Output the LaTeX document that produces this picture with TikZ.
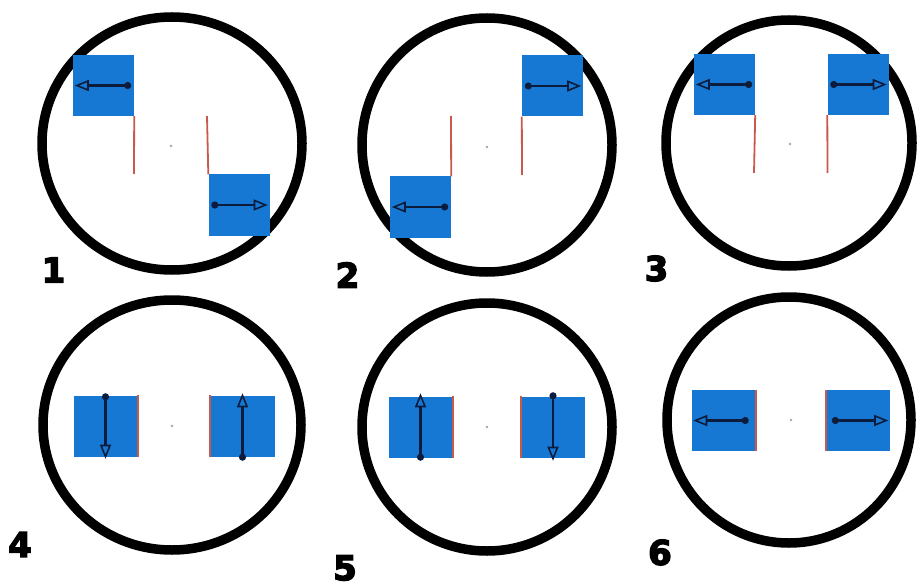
\documentclass[tikz,border=0pt]{standalone}
\usepackage{fontspec}
\newfontfamily\labfont[BoldFeatures={FakeBold=4}]{DejaVu Sans}
\usetikzlibrary{arrows.meta}
\definecolor{boxblue}{RGB}{22,120,210}
\definecolor{edgered}{RGB}{200,90,75}
\definecolor{arrowcol}{RGB}{12,28,60}
\tikzset{
  wheel/.style={draw=black, line width=9.5pt},
  hbox/.style={rectangle, fill=boxblue, inner sep=0pt, minimum width=61pt, minimum height=61pt},
  vbox/.style={rectangle, fill=boxblue, inner sep=0pt, minimum width=64pt, minimum height=61pt},
  redline/.style={draw=edgered, line width=1.8pt},
  dirarrow/.style={draw=arrowcol, line width=2.2pt, {Circle[length=7pt]}-{Triangle[open, length=14pt, width=11pt, line width=1.6pt]}},
  hub/.style={circle, fill=gray!70, inner sep=0pt, minimum size=2.6pt},
  numlab/.style={inner sep=0pt, font=\labfont\bfseries\fontsize{34}{34}\selectfont}
}
\begin{document}
\begin{tikzpicture}[x=1pt, y=-1pt]
\path[fill=white, use as bounding box] (0,0) rectangle (918,588);

% ---------- wheels ----------
\draw[wheel] (172,143.5) ellipse [x radius=130, y radius=126.5];
\draw[wheel] (487,145) ellipse [x radius=125, y radius=127];
\draw[wheel] (789,143) ellipse [x radius=123, y radius=123];
\draw[wheel] (172,425) ellipse [x radius=129, y radius=125];
\draw[wheel] (487,427) ellipse [x radius=125, y radius=124];
\draw[wheel] (789,420) ellipse [x radius=122, y radius=123];

% ---------- hubs ----------
\node[hub] (h1) at (171,146) {};
\node[hub] (h2) at (487,147) {};
\node[hub] (h3) at (790,144) {};
\node[hub] (h4) at (172,426) {};
\node[hub] (h5) at (487,427) {};
\node[hub] (h6) at (791,420) {};

% ---------- panel 1 ----------
\node[hbox] (b1a) at (103.5,85.5) {};
\node[hbox] (b1b) at (239,205) {};
\coordinate (r1a) at (134,174);
\coordinate (r1b) at (207,116);
\draw[redline] (b1a.south east) -- (r1a);
\draw[redline] (r1b) -- (b1b.north west);
\draw[dirarrow] ([xshift=-3pt]b1a.east) -- ([xshift=2pt]b1a.west);
\draw[dirarrow] ([xshift=3pt]b1b.west) -- ([xshift=-2pt]b1b.east);

% ---------- panel 2 ----------
\node[hbox] (b2a) at (552.5,86) {};
\node[hbox] (b2b) at (420.5,207) {};
\coordinate (r2a) at (451,116);
\coordinate (r2b) at (522,175);
\draw[redline] (r2a) -- (b2b.north east);
\draw[redline] (b2a.south west) -- (r2b);
\draw[dirarrow] ([xshift=3pt]b2a.west) -- ([xshift=-2pt]b2a.east);
\draw[dirarrow] ([xshift=-3pt]b2b.east) -- ([xshift=2pt]b2b.west);

% ---------- panel 3 ----------
\node[hbox] (b3a) at (724.5,84.5) {};
\node[hbox] (b3b) at (858,84.5) {};
\coordinate (r3a) at (754,173);
\coordinate (r3b) at (827.5,173);
\draw[redline] (b3a.south east) -- (r3a);
\draw[redline] (b3b.south west) -- (r3b);
\draw[dirarrow] ([xshift=-3pt]b3a.east) -- ([xshift=2pt]b3a.west);
\draw[dirarrow] ([xshift=3pt]b3b.west) -- ([xshift=-2pt]b3b.east);

% ---------- panel 4 ----------
\node[vbox] (b4a) at (105.5,426) {};
\node[vbox] (b4b) at (242.5,426) {};
\draw[redline] (b4a.north east) -- (b4a.south east);
\draw[redline] (b4b.north west) -- (b4b.south west);
\draw[dirarrow] ([yshift=2pt]b4a.north) -- ([yshift=-2pt]b4a.south);
\draw[dirarrow] ([yshift=-4pt]b4b.south) -- ([yshift=2pt]b4b.north);

% ---------- panel 5 ----------
\node[vbox] (b5a) at (420.5,427) {};
\node[vbox] (b5b) at (553,427) {};
\draw[redline] (b5a.north east) -- (b5a.south east);
\draw[redline] (b5b.north west) -- (b5b.south west);
\draw[dirarrow] ([yshift=-3pt]b5a.south) -- ([yshift=3pt]b5a.north);
\draw[dirarrow] ([yshift=4pt]b5b.north) -- ([yshift=-3pt]b5b.south);

% ---------- panel 6 ----------
\node[vbox] (b6a) at (723.5,420.5) {};
\node[vbox] (b6b) at (858,420.5) {};
\draw[redline] (b6a.north east) -- (b6a.south east);
\draw[redline] (b6b.north west) -- (b6b.south west);
\draw[dirarrow] ([xshift=-7pt]b6a.east) -- ([xshift=2pt]b6a.west);
\draw[dirarrow] ([xshift=6pt]b6b.west) -- ([xshift=-2pt]b6b.east);

% ---------- labels ----------
\node[numlab] (n1) at (53.5,270) {1};
\node[numlab] (n2) at (347.5,275) {2};
\node[numlab] (n3) at (656.5,268.5) {3};
\node[numlab] (n4) at (20,544.5) {4};
\node[numlab] (n5) at (345,568) {5};
\node[numlab] (n6) at (660,552.5) {6};
\end{tikzpicture}
\end{document}
